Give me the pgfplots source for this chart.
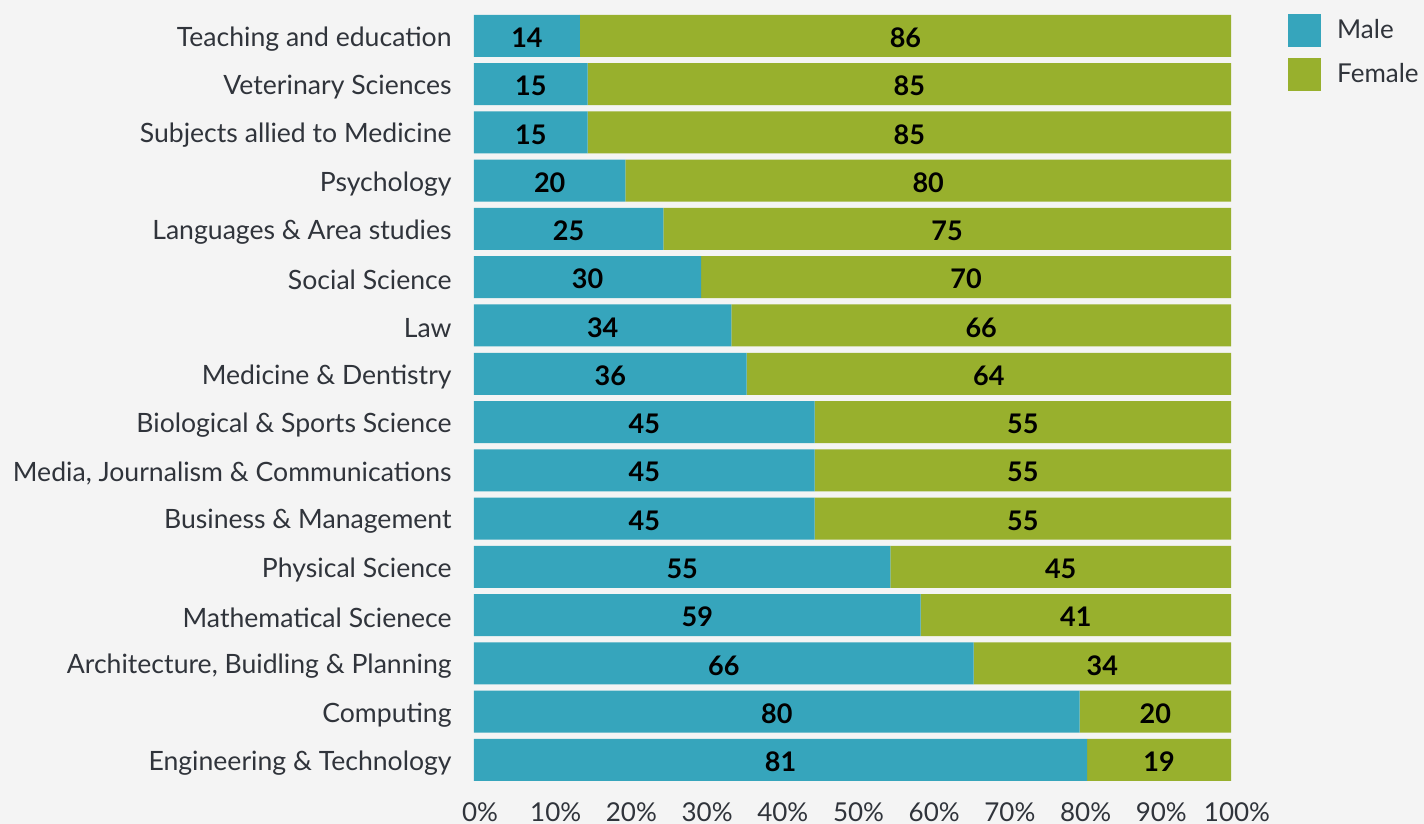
\documentclass[border=0pt]{standalone}
\usepackage{pgfplots}
\usepackage{pgfplotstable}
\pgfplotsset{compat=1.18}
\usepackage{fontspec}
\setmainfont{Lato}
\definecolor{bg}{HTML}{F4F4F4}
\definecolor{male}{HTML}{36A5BC}
\definecolor{female}{HTML}{98B02D}
\definecolor{txt}{HTML}{30343B}
\pgfplotstableread{
y male female
0 81 19
1 80 20
2 66 34
3 59 41
4 55 45
5 45 55
6 45 55
7 45 55
8 36 64
9 34 66
10 30 70
11 25 75
12 20 80
13 15 85
14 15 85
15 14 86
}\data
\begin{document}
\begin{tikzpicture}
\fill[bg] (0,0) rectangle (712pt,412pt);
\begin{axis}[
  at={(237pt,19.95pt)}, anchor=south west,
  scale only axis, width=378.5pt, height=386.2pt,
  xbar stacked, bar width=21pt,
  xmin=0, xmax=100, ymin=-0.5, ymax=15.5,
  axis line style={draw=none},
  major tick length=0pt,
  xtick={0,10,...,100},
  xticklabel={\pgfmathprintnumber{\tick}\%},
  xticklabel style={anchor=north, inner sep=0pt, yshift=-9pt, xshift=3pt, font=\fontsize{13}{15}\selectfont, text=txt},
  /pgf/number format/assume math mode=true,
  ytick={0,...,15},
  yticklabels={Engineering \& Technology, Computing, {Architecture, Buidling \& Planning}, Mathematical Scienece, Physical Science, Business \& Management, {Media, Journalism \& Communications}, Biological \& Sports Science, Medicine \& Dentistry, Law, Social Science, Languages \& Area studies, Psychology, Subjects allied to Medicine, Veterinary Sciences, Teaching and education},
  yticklabel style={anchor=east, inner sep=0pt, xshift=-11pt, yshift=-1.5pt, font=\fontsize{13.3}{15}\selectfont, text=txt},
  nodes near coords,
  point meta=explicit,
  every node near coord/.append style={anchor=center, font=\fontsize{13.5}{15}\selectfont\bfseries, text=black, yshift=-1pt},
  legend style={at={(1.075,0.997)}, anchor=north west, draw=none, fill=none, font=\fontsize{13}{15}\selectfont, text=txt, cells={anchor=west}, row sep=5.5pt, inner sep=0pt},
  legend image code/.code={\fill[#1] (0pt,-8.25pt) rectangle (16.5pt,8.25pt); \path (22.5pt,0pt);},
]
\addplot[fill=male, draw=none] table[x=male, y=y, meta=male] {\data};
\addplot[fill=female, draw=none] table[x=female, y=y, meta=female] {\data};
\legend{Male, Female}
\end{axis}
\end{tikzpicture}
\end{document}
